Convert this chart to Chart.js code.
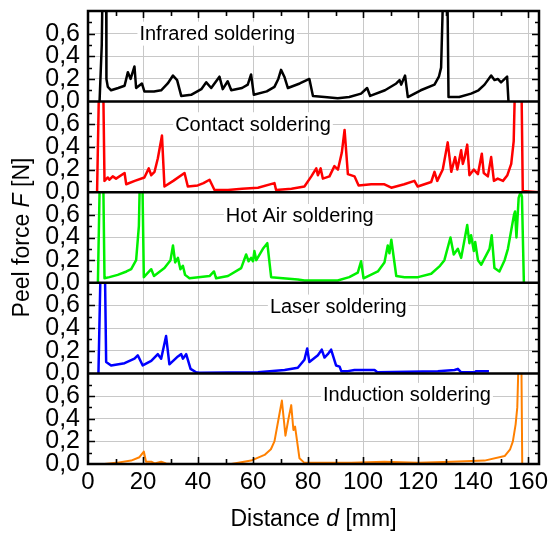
<!DOCTYPE html>
<html>
<head>
<meta charset="utf-8">
<script src="https://cdn.jsdelivr.net/npm/chart.js@4.4.1/dist/chart.umd.min.js"></script>
<style>
  html, body { margin: 0; padding: 0; background: #fff; }
</style>
</head>
<body>
<canvas id="graph" width="549" height="536"></canvas>
<script>
// peel force curves, [distance mm, force N]; values above 0.8 are clipped spikes
const infrared = [[4.2,0],[5.0,0.5],[5.4,1.2],[6.6,1.2],[6.7,0.2],[7.2,0.13],[8.4,0.10],[11.0,0.12],[13.3,0.14],[14.5,0.26],[15.5,0.2],[16.9,0.31],[17.5,0.12],[19.6,0.16],[20.5,0.09],[24.0,0.09],[26.6,0.1],[29.0,0.16],[30.9,0.23],[32.4,0.19],[33.9,0.05],[37.5,0.06],[41.2,0.11],[43.0,0.17],[44.8,0.12],[47.8,0.22],[49.0,0.11],[50.8,0.18],[52.1,0.10],[56.0,0.12],[58.1,0.15],[59.3,0.24],[60.3,0.06],[65.0,0.09],[67.8,0.13],[69.2,0.2],[70.2,0.28],[71.4,0.22],[72.7,0.12],[77.0,0.16],[80.5,0.2],[81.8,0.05],[86.0,0.04],[90.8,0.03],[95.0,0.04],[99.3,0.07],[101.5,0.12],[102.6,0.05],[108.0,0.1],[112.1,0.16],[113.3,0.19],[113.9,0.15],[115.3,0.23],[116.3,0.04],[121.0,0.1],[126.0,0.15],[127.6,0.22],[128.4,0.3],[129.4,1.2],[130.6,1.2],[131.1,0.04],[135.0,0.04],[139.3,0.07],[142.0,0.1],[144.2,0.15],[146.6,0.23],[147.8,0.19],[149.0,0.2],[150.2,0.17],[152.4,0.22],[152.9,0]];
const contact = [[3.3,0],[4.2,1.2],[5.4,1.2],[6.0,0.1],[7.2,0.13],[7.8,0.11],[9.0,0.14],[10.2,0.12],[13.3,0.17],[13.9,0.07],[17.0,0.1],[20.5,0.13],[22.1,0.21],[23.0,0.15],[24.2,0.18],[25.4,0.3],[26.9,0.5],[27.8,0.05],[31.0,0.1],[35.1,0.17],[36.3,0.05],[39.9,0.06],[42.0,0.08],[44.2,0.11],[46.0,0.02],[50.9,0.02],[56.0,0.03],[61.8,0.04],[67.8,0.08],[68.4,0.02],[74.0,0.03],[78.7,0.05],[81.2,0.14],[83.0,0.21],[83.6,0.15],[84.6,0.21],[85.4,0.12],[87.8,0.14],[89.6,0.23],[90.9,0.2],[92.3,0.35],[93.3,0.55],[94.5,0.16],[96.9,0.14],[98.4,0.06],[103.0,0.07],[107.8,0.07],[110.3,0.04],[115.0,0.07],[118.7,0.1],[119.9,0.05],[124.8,0.09],[126.0,0.18],[127.0,0.1],[129.0,0.2],[130.8,0.44],[132.1,0.18],[133.5,0.31],[134.3,0.2],[135.7,0.37],[136.3,0.25],[136.9,0.3],[137.9,0.42],[138.7,0.15],[140.3,0.2],[141.8,0.16],[143.2,0.34],[143.9,0.17],[145.4,0.14],[146.6,0.31],[147.6,0.1],[149.0,0.12],[150.9,0.1],[152.5,0.15],[153.9,0.25],[154.8,0.45],[155.5,1.2],[157.5,1.2],[158.1,0.01],[164,0]];
const hotAir = [[3.6,0],[4.5,1.2],[5.4,1.2],[6.0,0.04],[7.8,0.05],[10.8,0.07],[14.0,0.1],[15.7,0.12],[17.5,0.2],[18.5,0.5],[19.1,1.2],[19.6,1.2],[20.3,0.05],[23.0,0.12],[24.0,0.06],[27.8,0.13],[30.0,0.2],[30.9,0.33],[31.7,0.18],[32.7,0.22],[33.6,0.12],[34.5,0.15],[35.3,0.07],[36.9,0.04],[44.2,0.06],[45.8,0.1],[46.6,0.04],[50.9,0.06],[55.7,0.13],[57.5,0.25],[58.4,0.19],[59.3,0.22],[60.0,0.19],[60.5,0.28],[61.2,0.2],[63.6,0.3],[65.2,0.35],[66.6,0.05],[76.3,0.03],[78.7,0.02],[90.8,0.02],[95.0,0.05],[98.1,0.09],[99.3,0.19],[100.2,0.04],[105.4,0.1],[107.8,0.18],[109.0,0.33],[109.6,0.26],[110.3,0.38],[112.1,0.06],[115.1,0.05],[120.0,0.05],[124.8,0.08],[128.0,0.15],[129.6,0.2],[131.8,0.4],[133.0,0.25],[134.5,0.3],[135.7,0.22],[137.9,0.51],[138.7,0.35],[139.3,0.42],[140.3,0.28],[140.8,0.36],[141.8,0.2],[143.0,0.16],[146.0,0.3],[146.8,0.42],[147.8,0.13],[149.6,0.1],[151.5,0.2],[152.7,0.3],[154.9,0.6],[155.3,0.63],[155.8,0.4],[156.6,0.75],[157.3,0.8],[157.8,0.76],[158.5,0]];
const laser = [[3.8,0],[4.8,1.2],[6.0,1.2],[6.6,0.1],[8.4,0.07],[13.3,0.09],[16.9,0.13],[18.1,0.16],[19.9,0.07],[23.0,0.11],[25.4,0.17],[26.6,0.13],[28.4,0.33],[29.6,0.08],[32.7,0.15],[33.9,0.17],[34.5,0.13],[35.7,0.17],[37.3,0.04],[39.3,0.01],[40.5,0.005],[61.8,0.01],[71.5,0.03],[76.3,0.05],[78.7,0.12],[79.7,0.22],[80.5,0.1],[83.6,0.16],[85.0,0.21],[86.0,0.14],[87.2,0.17],[88.4,0.21],[90.2,0.07],[91.5,0.06],[92.1,0.02],[94.5,0.02],[96.9,0.03],[104.2,0.03],[105.2,0.01],[127.2,0.02],[133.3,0.03],[134.5,0.04],[135.7,0.01],[140.5,0.01],[141.2,0.02],[145.8,0.02]];
const induction = [[6.0,0],[10.2,0.01],[15.7,0.03],[18.7,0.06],[20.3,0.11],[21.1,0.02],[23.0,0.02],[24.2,0.005],[26.6,0.02],[28.4,0.005],[30.2,0],[52.1,0],[59.3,0.03],[64.2,0.08],[66.5,0.13],[67.8,0.2],[69.3,0.4],[70.5,0.56],[71.8,0.25],[72.9,0.4],[73.9,0.52],[74.7,0.3],[75.3,0.33],[76.9,0.05],[78.7,0.01],[83.6,0.01],[95.7,0.01],[107.8,0.02],[120.0,0.01],[132.1,0.02],[144.2,0.03],[151.5,0.07],[153.5,0.13],[154.5,0.2],[155.5,0.35],[156.1,0.5],[156.9,1.2],[157.5,1.2],[157.9,0],[158.5,0]];

const methods = ["Infrared soldering", "Contact soldering", "Hot Air soldering", "Laser soldering", "Induction soldering"];
const yTicks = [0, 0.2, 0.4, 0.6];

// panel setup, top to bottom
const FONT = "'Liberation Sans', Arial, sans-serif";
const panels = [
    {data: infrared, color: "#000000", width: 2.5, labelAt: [47, 0.6]},
    {data: contact, color: "#ff0000", width: 2.5, labelAt: [60, 0.6]},
    {data: hotAir, color: "#00f000", width: 2.5, labelAt: [77, 0.59]},
    {data: laser, color: "#0000ff", width: 2.5, labelAt: [91, 0.59]},
    {data: induction, color: "#ff8000", width: 2, labelAt: [116, 0.61]}
];

function fmt(v) {
    return v.toFixed(1).replace(".", ",");
}

const scales = {
    x: {
        type: "linear", min: 0, max: 164, position: "bottom",
        ticks: {stepSize: 20, includeBounds: false, autoSkip: false, maxRotation: 0,
            color: "#000", padding: 4, font: {family: FONT, size: 24},
            callback: v => v % 20 === 0 && v <= 160 ? v : ""},
        grid: {color: "#c8c8c8", lineWidth: 1, drawTicks: false},
        border: {display: false},
        afterFit: s => { s.height = 72; s.paddingLeft = 0; s.paddingRight = 0; }
    }
};
// bottom panel first so the first method ends up on top of the stack
for (let i = panels.length - 1; i >= 0; i--) {
    scales["y" + i] = {
        type: "linear", position: "left", stack: "panels", stackWeight: 1, offset: false,
        min: 0, max: 0.8,
        afterBuildTicks: s => { s.ticks = yTicks.map(v => ({value: v})); },
        ticks: {autoSkip: false, color: "#000", padding: 8, font: {family: FONT, size: 25},
            callback: v => fmt(v)},
        grid: {color: "#c8c8c8", lineWidth: 1, drawTicks: false},
        border: {display: false},
        afterFit: s => { s.width = 88; s.paddingTop = 0; s.paddingBottom = 0; }
    };
}

const datasets = panels.map((p, i) => ({
    label: methods[i],
    yAxisID: "y" + i,
    data: p.data.map(d => ({x: d[0], y: d[1]})),
    borderColor: p.color,
    borderWidth: p.width,
    pointRadius: 0,
    tension: 0,
    borderJoinStyle: "round",
    fill: false
}));

function drawMixed(ctx, parts, cx, cy, rot) {
    ctx.save();
    ctx.translate(cx, cy);
    ctx.rotate(rot);
    let total = 0;
    parts.forEach(p => { ctx.font = p[1]; total += ctx.measureText(p[0]).width; });
    let x = -total / 2;
    ctx.textAlign = "left";
    ctx.textBaseline = "middle";
    ctx.fillStyle = "#000";
    parts.forEach(p => { ctx.font = p[1]; ctx.fillText(p[0], x, 0); x += ctx.measureText(p[0]).width; });
    ctx.restore();
}

const decor = {
    id: "decor",
    beforeDatasetsDraw(chart) {
        const ctx = chart.ctx;
        const xs = chart.scales.x;
        ctx.save();
        ctx.font = "20px " + FONT;
        ctx.textAlign = "center";
        ctx.textBaseline = "middle";
        panels.forEach((p, i) => {
            const ys = chart.scales["y" + i];
            const px = xs.getPixelForValue(p.labelAt[0]);
            const py = ys.getPixelForValue(p.labelAt[1]);
            const w = ctx.measureText(methods[i]).width;
            ctx.fillStyle = "#fff";
            ctx.fillRect(px - w / 2 - 2, py - 12, w + 4, 24);
            ctx.fillStyle = "#000";
            ctx.fillText(methods[i], px, py + 1);
        });
        ctx.restore();
    },
    afterDraw(chart) {
        const ctx = chart.ctx;
        const a = chart.chartArea;
        const xs = chart.scales.x;
        ctx.save();
        ctx.strokeStyle = "#000";
        // inward ticks
        ctx.lineWidth = 1.6;
        ctx.beginPath();
        panels.forEach((p, i) => {
            const ys = chart.scales["y" + i];
            for (let k = 1; k < 8; k++) {
                const py = Math.round(ys.getPixelForValue(k / 10)) + 0.5;
                const len = k % 2 === 0 ? 7 : 4;
                ctx.moveTo(a.left, py); ctx.lineTo(a.left + len, py);
                ctx.moveTo(a.right, py); ctx.lineTo(a.right - len, py);
            }
        });
        for (let v = 10; v <= 160; v += 10) {
            const px = Math.round(xs.getPixelForValue(v)) + 0.5;
            const len = v % 20 === 0 ? 7 : 5;
            ctx.moveTo(px, a.bottom); ctx.lineTo(px, a.bottom - len);
            ctx.moveTo(px, a.top); ctx.lineTo(px, a.top + len);
        }
        ctx.stroke();
        // frame and panel separators
        ctx.lineWidth = 2.5;
        ctx.strokeRect(a.left, a.top, a.right - a.left, a.bottom - a.top);
        ctx.beginPath();
        for (let i = 0; i < panels.length - 1; i++) {
            const yb = chart.scales["y" + i].bottom;
            ctx.moveTo(a.left, yb); ctx.lineTo(a.right, yb);
        }
        ctx.stroke();
        ctx.restore();
        // axis titles
        const cx = (a.left + a.right) / 2;
        const cy = (a.top + a.bottom) / 2;
        drawMixed(ctx, [["Distance ", "23px " + FONT], ["d", "italic 23px " + FONT], [" [mm]", "23px " + FONT]], cx, 520, 0);
        drawMixed(ctx, [["Peel force ", "23px " + FONT], ["F", "italic 23px " + FONT], [" [N]", "23px " + FONT]], 23, cy, -Math.PI / 2);
    }
};

const chart = new Chart(document.getElementById("graph"), {
    type: "line",
    data: {datasets: datasets},
    options: {
        responsive: false,
        animation: false,
        layout: {padding: {top: 11, right: 10, left: 0, bottom: 0}},
        plugins: {legend: {display: false}, tooltip: {enabled: false}},
        scales: scales
    },
    plugins: [decor]
});
</script>
</body>
</html>
